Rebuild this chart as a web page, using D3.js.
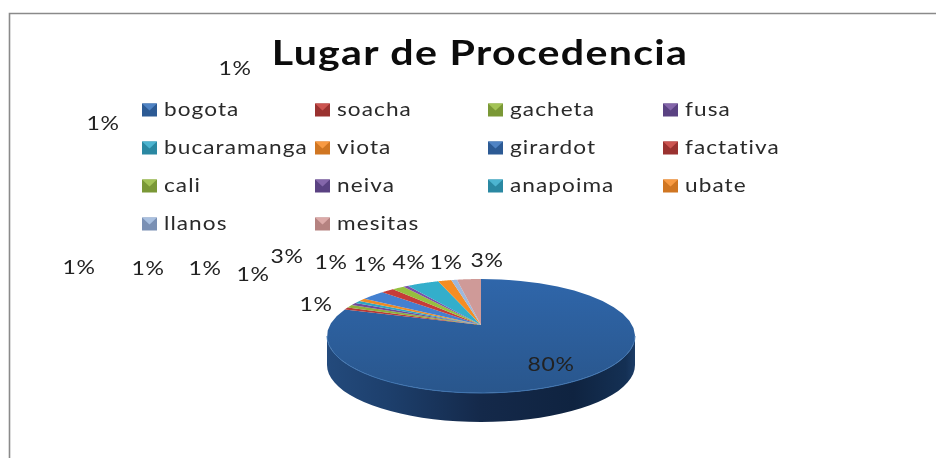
<!DOCTYPE html>
<html>
<head>
<meta charset="utf-8">
<script src="https://cdn.jsdelivr.net/npm/d3@7"></script>
<style>
html,body{margin:0;padding:0;background:#fff;overflow:hidden}
svg{display:block;filter:blur(0.55px)}
text{font-family:Lato,"Open Sans",sans-serif;fill:#222}
</style>
</head>
<body>
<div id="chart"></div>
<script>
const categories = ["bogota","soacha","gacheta","fusa","bucaramanga","viota","girardot","factativa","cali","neiva","anapoima","ubate","llanos","mesitas"];
const sliceShares = [82.9,0.6,0.8,0.7,0.7,0.8,2.6,1.4,1.3,0.5,3.4,1.4,0.6,2.5];
const percentLabels = ["80%","1%","1%","1%","1%","1%","1%","1%","3%","1%","1%","4%","1%","3%"];
const colors = ["#2f62a3","#b83a37","#8fb03c","#6f4a9a","#2ea6c4","#ee8a25","#4480d0","#c63c38","#96c03f","#7a51a8","#33aecb","#f58d23","#9db8dc","#cf9a98"];
const legendLight = ["#4f83c4","#cc5450","#a3c356","#8466aa","#4cb4d0","#f89a42","#4f83c4","#cc5450","#a3c356","#8466aa","#4cb4d0","#f89a42","#a9c0e0","#dcaaa8"];
const legendMid = ["#2c5a94","#9a3230","#7a9836","#5a4282","#2a88a2","#d07622","#2c5a94","#9a3230","#7a9836","#5a4282","#2a88a2","#d07622","#7a90b4","#b58280"];
const labelAnchors = [[551,364],[316,304],[235,68],[103,123],[79,267],[148,268],[205,268],[253,274],[287,256],[331,262],[370,264],[409,262],[446,262],[487,260]];

const W = 936, H = 458;
const svg = d3.select("#chart").append("svg").attr("width",W).attr("height",H);
const defs = svg.append("defs");
const line = d3.line();

// frame: left and top edges reach the picture's edge
svg.append("path").attr("d","M9.5,458V13.5H936").attr("fill","none").attr("stroke","#8a8a8a").attr("stroke-width",1.6);

// title (the source picture is stretched sideways, so the text is too)
svg.append("text").attr("transform","translate(480,65) scale(1.175,1)").attr("text-anchor","middle")
  .style("font-size","35px").style("font-weight",700).style("letter-spacing","1.1px").style("fill","#0c0c0c")
  .text("Lugar de Procedencia");

// legend
const colX = d3.scaleOrdinal().domain([0,1,2,3]).range([142,315,488,663]);
const rowY = d3.scalePoint().domain([0,1,2,3]).range([110,224]);
const lg = svg.append("g").selectAll("g").data(categories).join("g")
  .attr("transform",(d,i)=>`translate(${colX(i%4)},${rowY(Math.floor(i/4))})`);
const mw=15, mh=13;
lg.append("rect").attr("x",0).attr("y",-6.5).attr("width",mw).attr("height",mh).attr("fill",(d,i)=>legendMid[i]);
lg.append("path").attr("d",line([[0,-6.5],[mw,-6.5],[mw/2,0.5]])+"Z").attr("fill",(d,i)=>legendLight[i]);
lg.append("text").attr("transform","translate(22,5.7) scale(1.19,1)").style("font-size","19px").style("letter-spacing","0.9px").style("fill","#2a2a2a").text(d=>d);

// pie: a tilted ellipse whose apex sits above the ellipse centre, as in perspective
const cx=481, cy=336, rx=154, ry=57, apexY=325, depth=29;
const pie = d3.pie().sort(null).value(d=>d)(sliceShares);
const arcPoints = (a,b) => d3.range(0,41).map(k=>{
  const t=a+(b-a)*k/40; return [cx+rx*Math.sin(t), cy-ry*Math.cos(t)];
});

const sideGrad = defs.append("linearGradient").attr("id","side").attr("gradientUnits","userSpaceOnUse").attr("x1",cx-rx).attr("x2",cx+rx).attr("y1",0).attr("y2",0);
[[0,"#234a7c"],[0.2,"#1d3f6c"],[0.5,"#14294a"],[0.8,"#0f2340"],[0.97,"#143054"],[1,"#1c3c66"]].forEach(s=>sideGrad.append("stop").attr("offset",s[0]).attr("stop-color",s[1]));
const lower = arcPoints(Math.PI/2,Math.PI*1.5);
const wall = lower.concat(lower.slice().reverse().map(p=>[p[0],p[1]+depth]));
svg.append("path").attr("d",line(wall)+"Z").attr("fill","url(#side)");

const topGrad = defs.append("linearGradient").attr("id","topg").attr("x1",0).attr("x2",0).attr("y1",0).attr("y2",1);
topGrad.append("stop").attr("offset","0%").attr("stop-color","#2f66aa");
topGrad.append("stop").attr("offset","100%").attr("stop-color","#29568c");

svg.append("g").selectAll("path").data(pie).join("path")
  .attr("d",d=>line([[cx,apexY]].concat(arcPoints(d.startAngle,d.endAngle)))+"Z")
  .attr("fill",(d,i)=>i===0?"url(#topg)":colors[i]);

// thin light rim along the front edge of the top face
svg.append("path").attr("d",line(lower)).attr("fill","none").attr("stroke","#3f74b0").attr("stroke-width",1);

// labels
svg.append("g").selectAll("text").data(percentLabels).join("text")
  .attr("transform",(d,i)=>`translate(${labelAnchors[i][0]},${labelAnchors[i][1]+7}) scale(1.18,1)`)
  .attr("text-anchor","middle").style("font-size","19.5px").style("letter-spacing","0.6px").text(d=>d);
</script>
</body>
</html>
